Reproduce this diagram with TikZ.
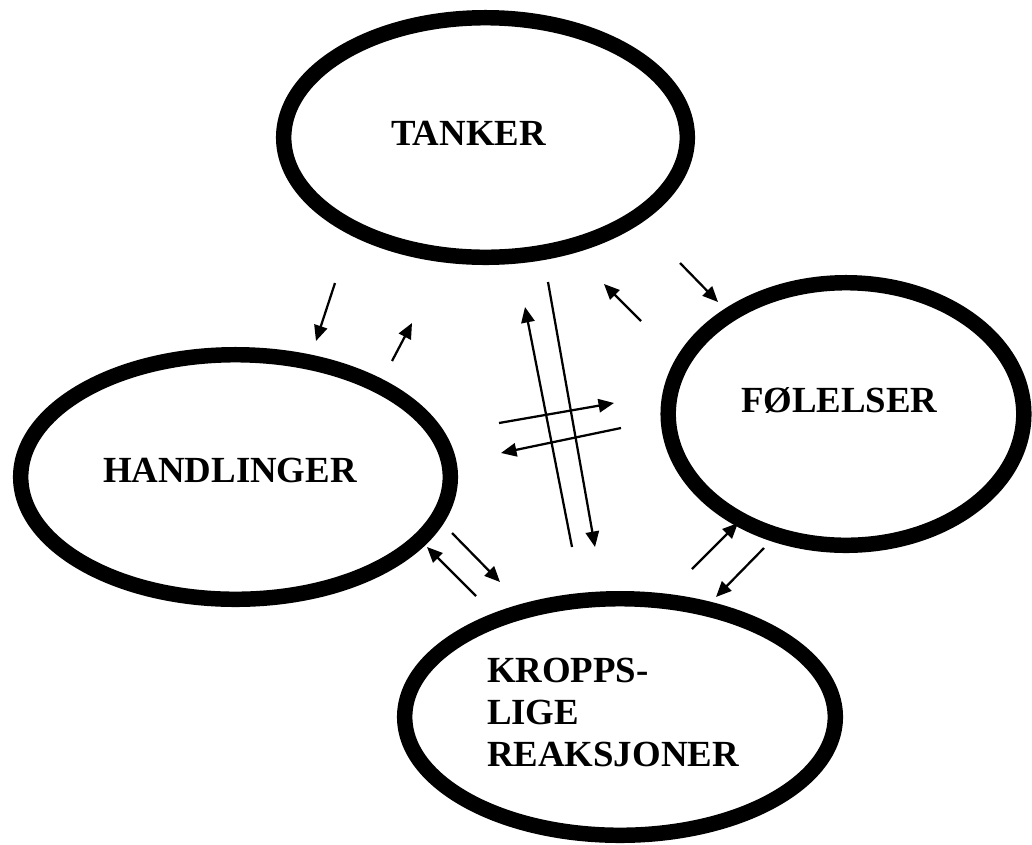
\documentclass[tikz,border=0pt]{standalone}
\usepackage{fontspec}
\setmainfont{Liberation Serif}
\usetikzlibrary{shapes.geometric,arrows.meta}
\begin{document}
\begin{tikzpicture}[x=0.025cm,y=-0.025cm,
  oval/.style={draw=black,ellipse,line width=11pt,inner sep=0pt,outer sep=0pt},
  lbl/.style={anchor=base west,inner sep=0pt,outer sep=0pt,font=\fontsize{26.2}{30}\selectfont\bfseries},
  conn/.style={line width=1.6pt,-{Triangle[length=11pt,width=9.5pt]}}]
\useasboundingbox (0,0) rectangle (1032,844);
% ovals
\node[oval,minimum width=10.0875cm,minimum height=5.9875cm] (tanker) at (485.5,137.5) {};
\node[oval,minimum width=10.7375cm,minimum height=6.1125cm] (handl) at (235.5,477) {};
\node[oval,minimum width=8.8875cm,minimum height=6.5625cm] (fol) at (846,414) {};
\node[oval,minimum width=10.7625cm,minimum height=5.9125cm] (kropp) at (620,717) {};
% labels
\node[lbl] (tankerT) at (391,145) {TANKER};
\node[lbl] (handlT) at (103,482) {HANDLINGER};
\node[lbl] (folT) at (741,412) {FØLELSER};
\node[lbl] (kropp1) at (487,682) {KROPPS-};
\node[lbl] (kropp2) at (487,724) {LIGE};
\node[lbl] (kropp3) at (487,766) {REAKSJONER};
% arrow end points
\coordinate (a1s) at (335,283); \coordinate (a1e) at (316,341);
\coordinate (a2s) at (392,361); \coordinate (a2e) at (412,323);
\coordinate (a3s) at (572,547); \coordinate (a3e) at (525,307);
\coordinate (a4s) at (548,282); \coordinate (a4e) at (595,547);
\coordinate (a5s) at (499,423); \coordinate (a5e) at (614,403);
\coordinate (a6s) at (621,428); \coordinate (a6e) at (501,453);
\coordinate (a7s) at (641,321); \coordinate (a7e) at (604,284);
\coordinate (a8s) at (680,263); \coordinate (a8e) at (718,302);
\coordinate (a9s) at (476,596); \coordinate (a9e) at (427,547);
\coordinate (a10s) at (452,533); \coordinate (a10e) at (500,582);
\coordinate (a11s) at (692,569); \coordinate (a11e) at (738,523);
\coordinate (a12s) at (764,548); \coordinate (a12e) at (716,597);
% arrows
\foreach \i in {1,...,12} {\draw[conn] (a\i s) -- (a\i e);}
\end{tikzpicture}
\end{document}
